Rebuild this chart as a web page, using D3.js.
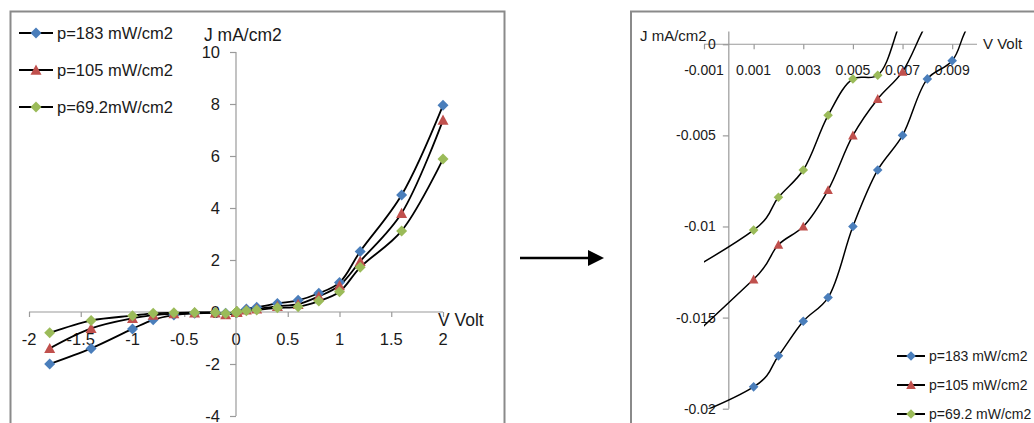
<!DOCTYPE html>
<html lang="en">
<head>
    <meta charset="UTF-8">
    <title>J-V curves</title>
    <script src="https://d3js.org/d3.v7.min.js"></script>
    <style>
        body { margin: 0; background: #fff; }
        svg text { font-family: "Liberation Sans", Arial, sans-serif; fill: #1a1a1a; }
    </style>
</head>
<body>
<svg id="chart" width="1034" height="423"></svg>
<script>
    // voltages (V) shared by the three series
    const volts = [-1.8, -1.4, -1.0, -0.8, -0.6, -0.4, -0.2, -0.1,
        0.001, 0.002, 0.003, 0.004, 0.005, 0.006, 0.007, 0.008, 0.009, 0.01,
        0.1, 0.2, 0.4, 0.6, 0.8, 1.0, 1.2, 1.6, 2.0];
    // current density (mA/cm2)
    const j183 = [-2.0, -1.4, -0.65, -0.3, -0.12, -0.05, -0.03, -0.05,
        -0.0188, -0.0171, -0.0152, -0.0139, -0.0100, -0.0069, -0.0050, -0.0019, -0.0009, 0.0018,
        0.12, 0.18, 0.33, 0.45, 0.72, 1.13, 2.33, 4.5, 7.95];
    const j105 = [-1.4, -0.63, -0.24, -0.12, -0.06, -0.03, -0.03, -0.1,
        -0.0129, -0.011, -0.010, -0.008, -0.005, -0.003, -0.0015, 0.0012, 0.003, 0.005,
        0.08, 0.12, 0.22, 0.3, 0.6, 1.02, 1.95, 3.8, 7.38];
    const j69 = [-0.8, -0.33, -0.14, -0.05, -0.03, -0.02, -0.02, -0.06,
        -0.0102, -0.0084, -0.0069, -0.0039, -0.0019, -0.0017, 0.0015, 0.004, 0.006, 0.008,
        0.05, 0.08, 0.16, 0.2, 0.42, 0.78, 1.72, 3.12, 5.88];

    const namesLeft = ["p=183 mW/cm2", "p=105 mW/cm2", "p=69.2mW/cm2"];
    const namesRight = ["p=183 mW/cm2", "p=105 mW/cm2", "p=69.2 mW/cm2"];
    const colors = ["#4a7ebb", "#c0504d", "#9bbb59"];
    const shapes = ["diamond", "triangle", "diamond"];

    const leftXTicks = [-2, -1.5, -1, -0.5, 0, 0.5, 1, 1.5, 2];
    const leftYTicks = [-4, -2, 0, 2, 4, 6, 8, 10];
    const rightXTicks = [-0.001, 0.001, 0.003, 0.005, 0.007, 0.009];
    const rightYTicks = [0, -0.005, -0.01, -0.015, -0.02];

    const series = [j183, j105, j69].map((js, k) => ({
        k: k,
        pts: volts.map((v, i) => ({ v: v, j: js[i] }))
    }));

    const svg = d3.select("#chart");
    const axisColor = "#9a9a9a";

    function marker(shape, r) {
        if (shape === "triangle") return `M0,${-r} L${r},${r * 0.85} L${-r},${r * 0.85}Z`;
        return `M0,${-r} L${r},0 L0,${r} L${-r},0Z`;
    }

    // frames
    svg.append("rect").attr("x", 10.5).attr("y", 11.5).attr("width", 494).attr("height", 440)
        .attr("fill", "none").attr("stroke", "#8a8a8a").attr("stroke-width", 2);
    svg.append("rect").attr("x", 631).attr("y", 11.5).attr("width", 440).attr("height", 440)
        .attr("fill", "none").attr("stroke", "#8a8a8a").attr("stroke-width", 2);

    // arrow between charts
    svg.append("line").attr("x1", 520).attr("y1", 258).attr("x2", 592).attr("y2", 258)
        .attr("stroke", "#000").attr("stroke-width", 2.5);
    svg.append("path").attr("d", "M588,250 L604,258 L588,266Z").attr("fill", "#000");

    function drawChart(o) {
        const g = svg.append("g");
        const x = d3.scaleLinear().domain(o.xDomain).range(o.xRange);
        const y = d3.scaleLinear().domain(o.yDomain).range(o.yRange);
        const x0 = x(0), y0 = y(0);

        // x axis
        const xa = g.append("g").attr("transform", `translate(0,${y0})`)
            .call(d3.axisBottom(x).tickValues(o.xTicks).tickSize(5).tickFormat(""));
        xa.select(".domain").attr("d", `M${o.xRange[0]},0H${o.xRange[1]}`);
        xa.selectAll("line, path").attr("stroke", axisColor).attr("stroke-width", 1.2);
        g.selectAll(".xl").data(o.xTicks).enter().append("text")
            .attr("x", d => x(d)).attr("y", y0 + o.xLabelDy)
            .attr("text-anchor", "middle").attr("dominant-baseline", "central")
            .style("font-size", o.tickFont + "px")
            .text(d => d);

        // y axis
        const ya = g.append("g").attr("transform", `translate(${x0},0)`)
            .call(d3.axisLeft(y).tickValues(o.yTicks).tickSize(6).tickFormat(""));
        ya.select(".domain").attr("d", `M0,${o.yRange[0]}V${o.yRange[1]}`);
        ya.selectAll("line, path").attr("stroke", axisColor).attr("stroke-width", 1.2);
        g.selectAll(".yl").data(o.yTicks).enter().append("text")
            .attr("x", x0 - o.yLabelDx).attr("y", d => y(d))
            .attr("text-anchor", "end").attr("dominant-baseline", "central")
            .style("font-size", o.tickFont + "px")
            .text(d => d);

        // titles
        g.append("text").attr("x", o.jTitle[0]).attr("y", o.jTitle[1])
            .attr("dominant-baseline", "central").style("font-size", o.titleFont + "px").text("J mA/cm2");
        g.append("text").attr("x", o.vTitle[0]).attr("y", o.vTitle[1])
            .attr("dominant-baseline", "central").style("font-size", o.titleFont + "px").text("V Volt");

        // clip to the plot area
        const clipId = "clip" + o.id;
        const pad = o.clipPad;
        g.append("clipPath").attr("id", clipId).append("rect")
            .attr("x", o.xRange[0] - pad).attr("y", o.yRange[1] - pad)
            .attr("width", o.xRange[1] - o.xRange[0] + 2 * pad)
            .attr("height", o.yRange[0] - o.yRange[1] + 2 * pad);
        const plot = g.append("g").attr("clip-path", `url(#${clipId})`);

        const line = d3.line().x(d => x(d.v)).y(d => y(d.j)).curve(d3.curveCatmullRom.alpha(0.5));
        plot.selectAll(".curve").data(series).enter().append("path")
            .attr("d", d => line(d.pts)).attr("fill", "none")
            .attr("stroke", "#000").attr("stroke-width", o.lineWidth);

        series.forEach(s => {
            plot.selectAll(".m" + s.k)
                .data(s.pts.filter(p => p.v >= o.xDomain[0] && p.v <= o.xDomain[1] &&
                    p.j >= o.yDomain[0] && p.j <= o.yDomain[1]))
                .enter().append("path")
                .attr("transform", p => `translate(${x(p.v)},${y(p.j)})`)
                .attr("d", marker(shapes[s.k], o.r))
                .attr("fill", colors[s.k]);
        });

        // legend
        const lg = g.selectAll(".lg").data(o.names).enter().append("g")
            .attr("transform", (d, i) => `translate(${o.legend.x},${o.legend.y + i * o.legend.step})`);
        lg.append("line").attr("x1", 0).attr("x2", o.legend.w).attr("stroke", "#000").attr("stroke-width", 2);
        lg.append("path").attr("transform", `translate(${o.legend.w / 2},0)`)
            .attr("d", (d, i) => marker(shapes[i], o.r)).attr("fill", (d, i) => colors[i]);
        lg.append("text").attr("x", o.legend.w + 4).attr("dominant-baseline", "central")
            .style("font-size", o.legendFont + "px").text(d => d);
    }

    drawChart({
        id: "L",
        xDomain: [-2, 2], xRange: [29, 443],
        yDomain: [-4, 10], yRange: [416, 52],
        xTicks: leftXTicks, yTicks: leftYTicks,
        xLabelDy: 27, yLabelDx: 16,
        tickFont: 16.5, titleFont: 17.5, legendFont: 16.5,
        jTitle: [204, 35], vTitle: [438, 320],
        lineWidth: 1.8, r: 5.5, clipPad: 8,
        names: namesLeft,
        legend: { x: 19, y: 33, step: 37, w: 34 }
    });

    drawChart({
        id: "R",
        xDomain: [-0.001, 0.01], xRange: [704, 977],
        yDomain: [-0.02, 0.0007], yRange: [408.7, 31.5],
        xTicks: rightXTicks, yTicks: rightYTicks,
        xLabelDy: 26, yLabelDx: 13,
        tickFont: 14, titleFont: 15, legendFont: 14,
        jTitle: [640, 35], vTitle: [983, 43],
        lineWidth: 1.5, r: 4.8, clipPad: 0,
        names: namesRight,
        legend: { x: 897, y: 356, step: 29, w: 28 }
    });
</script>
</body>
</html>
